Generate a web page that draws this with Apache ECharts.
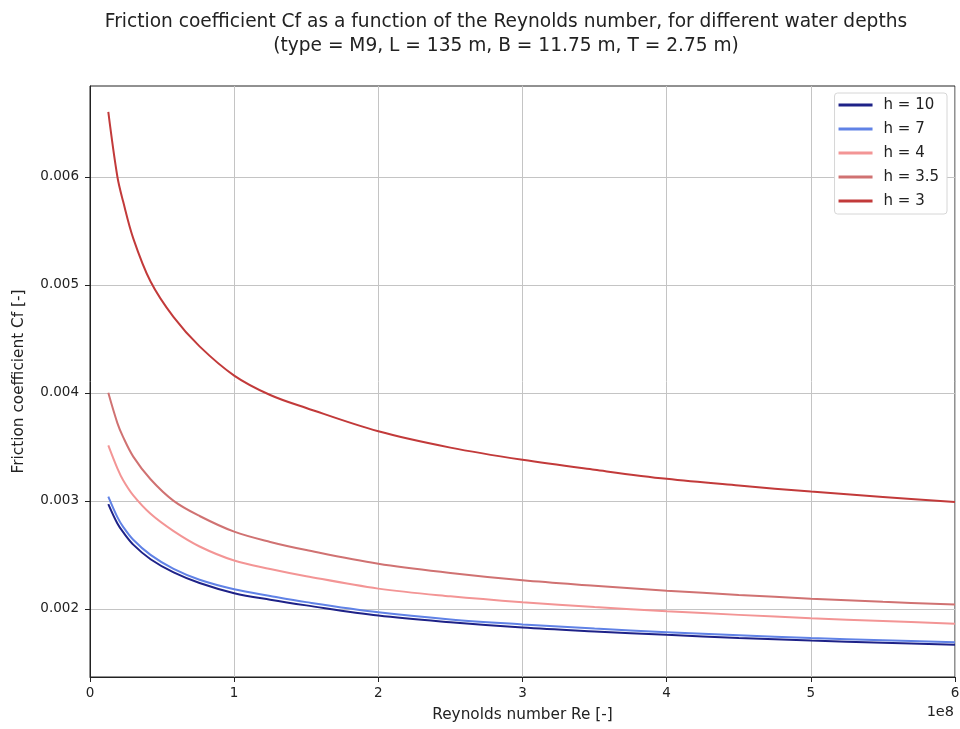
<!DOCTYPE html>
<html>
<head>
<meta charset="utf-8">
<script src="https://cdn.jsdelivr.net/npm/echarts@6/dist/echarts.min.js"></script>
<style>
  html, body { margin: 0; padding: 0; background: #fff; }
  #chart { width: 960px; height: 729px; }
</style>
</head>
<body>
<div id="chart"></div>
<script>
// Reynolds number (raw)
const reynolds = [0.127, 0.19, 0.23, 0.3, 0.42, 0.58, 0.76, 1, 1.25, 1.5, 2, 2.5, 3, 3.5, 4, 4.5, 5, 5.5, 6].map((v) => v * 1e8)

const cfH10 = [0.00297, 0.00279, 0.00271, 0.002595, 0.00246, 0.002338, 0.00224, 0.002146, 0.002085, 0.002033, 0.001939, 0.001877, 0.001828, 0.001792, 0.00176, 0.001732, 0.001707, 0.001687, 0.001668]
const cfH7 = [0.00304, 0.00285, 0.00276, 0.00264, 0.0025, 0.00237, 0.00227, 0.002182, 0.00212, 0.002063, 0.001969, 0.001903, 0.001857, 0.001818, 0.001785, 0.001756, 0.00173, 0.00171, 0.001692]
const cfH4 = [0.003513, 0.0033, 0.00319, 0.00305, 0.00288, 0.00272, 0.002578, 0.002448, 0.00237, 0.002303, 0.002188, 0.002117, 0.002062, 0.002018, 0.001979, 0.001945, 0.001914, 0.001888, 0.001864]
const cfH35 = [0.004, 0.00372, 0.00359, 0.00341, 0.0032, 0.00300, 0.00286, 0.002715, 0.00262, 0.002545, 0.002418, 0.002333, 0.002265, 0.002215, 0.002169, 0.00213, 0.002095, 0.002066, 0.00204]
const cfH3 = [0.0066, 0.006, 0.00577, 0.00543, 0.00503, 0.0047, 0.00443, 0.00416, 0.00398, 0.00386, 0.003644, 0.003493, 0.00338, 0.003288, 0.003204, 0.003142, 0.003086, 0.003037, 0.00299]

const yTicks = [0.002, 0.003, 0.004, 0.005, 0.006]

const seriesDefs = [
  { name: "h = 10", color: "#1e2288", values: cfH10 },
  { name: "h = 7", color: "#6082e6", values: cfH7 },
  { name: "h = 4", color: "#f39595", values: cfH4 },
  { name: "h = 3.5", color: "#d07272", values: cfH35 },
  { name: "h = 3", color: "#c23a3a", values: cfH3 }
]

const font = "DejaVu Sans"
const chart = echarts.init(document.getElementById("chart"), null, { renderer: "canvas" })

chart.setOption({
  animation: false,
  title: {
    text: "Friction coefficient Cf as a function of the Reynolds number, for different water depths\n(type = M9, L = 135 m, B = 11.75 m, T = 2.75 m)",
    left: 501,
    textAlign: "center",
    top: 5,
    textStyle: { fontFamily: font, fontSize: 18.6, fontWeight: "normal", color: "#222", lineHeight: 24 }
  },
  grid: { left: 90, right: 5, top: 86, bottom: 52, outerBoundsMode: "none", show: true, borderColor: "#222", borderWidth: 1 },
  legend: {
    orient: "vertical",
    right: 13,
    top: 93,
    itemWidth: 34,
    itemHeight: 3,
    itemGap: 6,
    icon: "rect",
    padding: [3, 8, 4, 4],
    borderColor: "#d6d6d6",
    borderWidth: 1,
    borderRadius: 3,
    backgroundColor: "#fff",
    textStyle: { fontFamily: font, fontSize: 15, color: "#222", lineHeight: 18, padding: [0, 0, 0, 6] },
    data: seriesDefs.map((s) => s.name)
  },
  xAxis: {
    type: "value",
    min: 0,
    max: 6e8,
    interval: 1e8,
    name: "Reynolds number Re [-]",
    nameLocation: "middle",
    nameGap: 31,
    nameTextStyle: { fontFamily: font, fontSize: 15.3, color: "#222" },
    axisLine: { lineStyle: { color: "#222" } },
    axisTick: { length: 5, lineStyle: { color: "#222" } },
    axisLabel: { fontFamily: font, fontSize: 13.5, color: "#222", margin: 9, formatter: (v) => String(Math.round(v / 1e8)) },
    splitLine: { show: true, lineStyle: { color: "#c4c4c4", width: 1 } }
  },
  yAxis: {
    type: "value",
    min: 0.00137,
    max: 0.00684,
    name: "Friction coefficient Cf [-]",
    nameLocation: "middle",
    nameGap: 63,
    nameTextStyle: { fontFamily: font, fontSize: 15.3, color: "#222" },
    axisLine: { show: true, lineStyle: { color: "#222" } },
    axisTick: { show: true, length: 5, lineStyle: { color: "#222" }, customValues: yTicks },
    axisLabel: { fontFamily: font, fontSize: 13.5, color: "#222", margin: 11, customValues: yTicks, formatter: (v) => v.toFixed(3) },
    splitLine: { show: true, lineStyle: { color: "#c4c4c4", width: 1 } }
  },
  graphic: [{
    type: "text",
    right: 6,
    top: 705,
    style: { text: "1e8", fontFamily: font, fontSize: 14.5, fill: "#222" }
  }],
  series: seriesDefs.map((s) => ({
    name: s.name,
    type: "line",
    showSymbol: false,
    smooth: 0.35,
    color: s.color,
    lineStyle: { width: 2, color: s.color },
    data: reynolds.map((re, i) => [re, s.values[i]])
  }))
})
</script>
</body>
</html>
